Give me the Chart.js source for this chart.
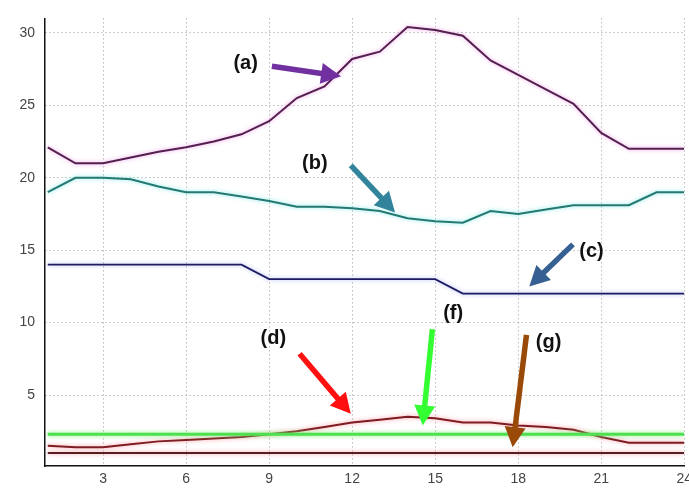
<!DOCTYPE html>
<html>
<head>
<meta charset="utf-8">
<script src="https://cdn.jsdelivr.net/npm/chart.js@4"></script>
<style>
  html, body { margin: 0; padding: 0; background: #fff; overflow: hidden; }
  #wrap { width: 689px; height: 492px; overflow: hidden; }
</style>
</head>
<body>
<div id="wrap"><canvas id="myChart" width="697" height="492"></canvas></div>
<script>
// hours of the day
const hours = [1,2,3,4,5,6,7,8,9,10,11,12,13,14,15,16,17,18,19,20,21,22,23,24]

const seriesA = [22.1,21.0,21.0,21.4,21.8,22.1,22.5,23.0,23.9,25.5,26.3,28.2,28.7,30.4,30.2,29.8,28.1,27.1,26.1,25.1,23.1,22.0,22.0,22.0]
const seriesB = [19.0,20.0,20.0,19.9,19.4,19.0,19.0,18.7,18.4,18.0,18.0,17.9,17.7,17.2,17.0,16.9,17.7,17.5,17.8,18.1,18.1,18.1,19.0,19.0]
const seriesC = [14,14,14,14,14,14,14,14,13,13,13,13,13,13,13,12,12,12,12,12,12,12,12,12]
const seriesD = [1.5,1.4,1.4,1.6,1.8,1.9,2.0,2.1,2.3,2.5,2.8,3.1,3.3,3.5,3.4,3.1,3.1,2.9,2.8,2.6,2.1,1.7,1.7,1.7]
const seriesF = [2.3,2.3,2.3,2.3,2.3,2.3,2.3,2.3,2.3,2.3,2.3,2.3,2.3,2.3,2.3,2.3,2.3,2.3,2.3,2.3,2.3,2.3,2.3,2.3]
const seriesG = [1.0,1.0,1.0,1.0,1.0,1.0,1.0,1.0,1.0,1.0,1.0,1.0,1.0,1.0,1.0,1.0,1.0,1.0,1.0,1.0,1.0,1.0,1.0,1.0]

const xTicks = [3,6,9,12,15,18,21,24]
const yTicks = [5,10,15,20,25,30]

// labelled arrows, in data units: label, label pos, arrow tail, arrow tip
const arrowLabels = ['(a)','(b)','(c)','(d)','(f)','(g)']
const arrowLabelPos = [[8.15,27.9],[10.65,21.0],[20.65,14.9],[9.15,8.9],[15.65,10.6],[19.1,8.65]]
const arrowTails = [[9.1,27.7],[11.95,20.85],[19.98,15.4],[10.1,7.85],[14.9,9.55],[18.3,9.15]]
const arrowTips = [[11.6,27.0],[13.55,17.6],[18.4,12.5],[11.95,3.7],[14.55,2.9],[17.8,1.4]]
const arrowColors = ['#7030a0','#31849b','#376092','#ff1010','#33ff33','#9a4a08']

const toPoints = (vals)=>{
  return vals.map((v, i)=>{
    return {x: hours[i], y: v}
  })
}

const haloPlugin = {
  id: 'halo',
  beforeDatasetDraw(chart, args){
    const ds = chart.data.datasets[args.index]
    chart.ctx.save()
    if (ds.halo) {
      chart.ctx.shadowColor = ds.halo
      chart.ctx.shadowBlur = 4
    }
  },
  afterDatasetDraw(chart){
    chart.ctx.restore()
  }
}

const arrowPlugin = {
  id: 'arrows',
  afterDatasetsDraw(chart){
    const ctx = chart.ctx
    const xs = chart.scales.x
    const ys = chart.scales.y
    arrowLabels.forEach((label, i)=>{
      const x1 = xs.getPixelForValue(arrowTails[i][0])
      const y1 = ys.getPixelForValue(arrowTails[i][1])
      const x2 = xs.getPixelForValue(arrowTips[i][0])
      const y2 = ys.getPixelForValue(arrowTips[i][1])
      const ang = Math.atan2(y2 - y1, x2 - x1)
      const headLen = 20
      const headW = 10.5
      const bx = x2 - headLen * Math.cos(ang)
      const by = y2 - headLen * Math.sin(ang)
      ctx.save()
      ctx.strokeStyle = arrowColors[i]
      ctx.fillStyle = arrowColors[i]
      ctx.lineWidth = 5.5
      ctx.beginPath()
      ctx.moveTo(x1, y1)
      ctx.lineTo(bx + 2 * Math.cos(ang), by + 2 * Math.sin(ang))
      ctx.stroke()
      ctx.beginPath()
      ctx.moveTo(x2, y2)
      ctx.lineTo(bx + headW * Math.sin(ang), by - headW * Math.cos(ang))
      ctx.lineTo(bx - headW * Math.sin(ang), by + headW * Math.cos(ang))
      ctx.closePath()
      ctx.fill()

      ctx.fillStyle = '#111'
      ctx.font = 'bold 20px "Liberation Sans", Arial, sans-serif'
      ctx.textAlign = 'center'
      ctx.textBaseline = 'middle'
      ctx.fillText(label, xs.getPixelForValue(arrowLabelPos[i][0]), ys.getPixelForValue(arrowLabelPos[i][1]))
      ctx.restore()
    })
  }
}

const lineSet = (data, color, halo, width)=>{
  return {
    data: toPoints(data),
    borderColor: color,
    halo: halo,
    borderWidth: width,
    pointRadius: 0,
    tension: 0,
    fill: false
  }
}

const ctx = document.getElementById('myChart').getContext('2d')

const chart = new Chart(ctx, {
  type: 'line',
  data: {
    datasets: [
      lineSet(seriesF, '#4ee04e', 'rgba(120,240,120,0.9)', 3),
      lineSet(seriesG, '#5a1e22', 'rgba(240,150,160,0.9)', 2),
      lineSet(seriesD, '#7e1c22', 'rgba(250,140,150,0.9)', 2),
      lineSet(seriesC, '#1c1c60', 'rgba(150,160,240,0.8)', 1.8),
      lineSet(seriesB, '#247a72', 'rgba(120,230,230,0.9)', 2),
      lineSet(seriesA, '#55204f', 'rgba(235,150,230,0.9)', 2)
    ]
  },
  options: {
    responsive: false,
    animation: false,
    layout: {
      padding: { top: 10, right: 0, left: 0, bottom: 0 }
    },
    plugins: {
      legend: { display: false },
      tooltip: { enabled: false }
    },
    scales: {
      x: {
        type: 'linear',
        min: 0.9,
        max: 24,
        afterBuildTicks: (scale)=>{
          scale.ticks = xTicks.map((v)=>({value: v}))
        },
        afterFit: (scale)=>{
          scale.height = 26
        },
        ticks: {
          color: '#444',
          padding: 5,
          font: { size: 14, family: 'Arial, "Liberation Sans", sans-serif' }
        },
        grid: {
          color: '#9a9a9a',
          lineWidth: 1,
          drawTicks: false
        },
        border: {
          color: '#111',
          width: 1.5,
          dash: [1, 3]
        }
      },
      y: {
        min: 0.1,
        max: 31,
        afterBuildTicks: (scale)=>{
          scale.ticks = yTicks.map((v)=>({value: v}))
        },
        afterFit: (scale)=>{
          scale.width = 45
        },
        ticks: {
          color: '#444',
          padding: 10,
          font: { size: 14, family: 'Arial, "Liberation Sans", sans-serif' }
        },
        grid: {
          color: '#9a9a9a',
          lineWidth: 1,
          drawTicks: false
        },
        border: {
          color: '#111',
          width: 1.5,
          dash: [1, 3]
        }
      }
    }
  },
  plugins: [haloPlugin, arrowPlugin]
})
</script>
</body>
</html>
